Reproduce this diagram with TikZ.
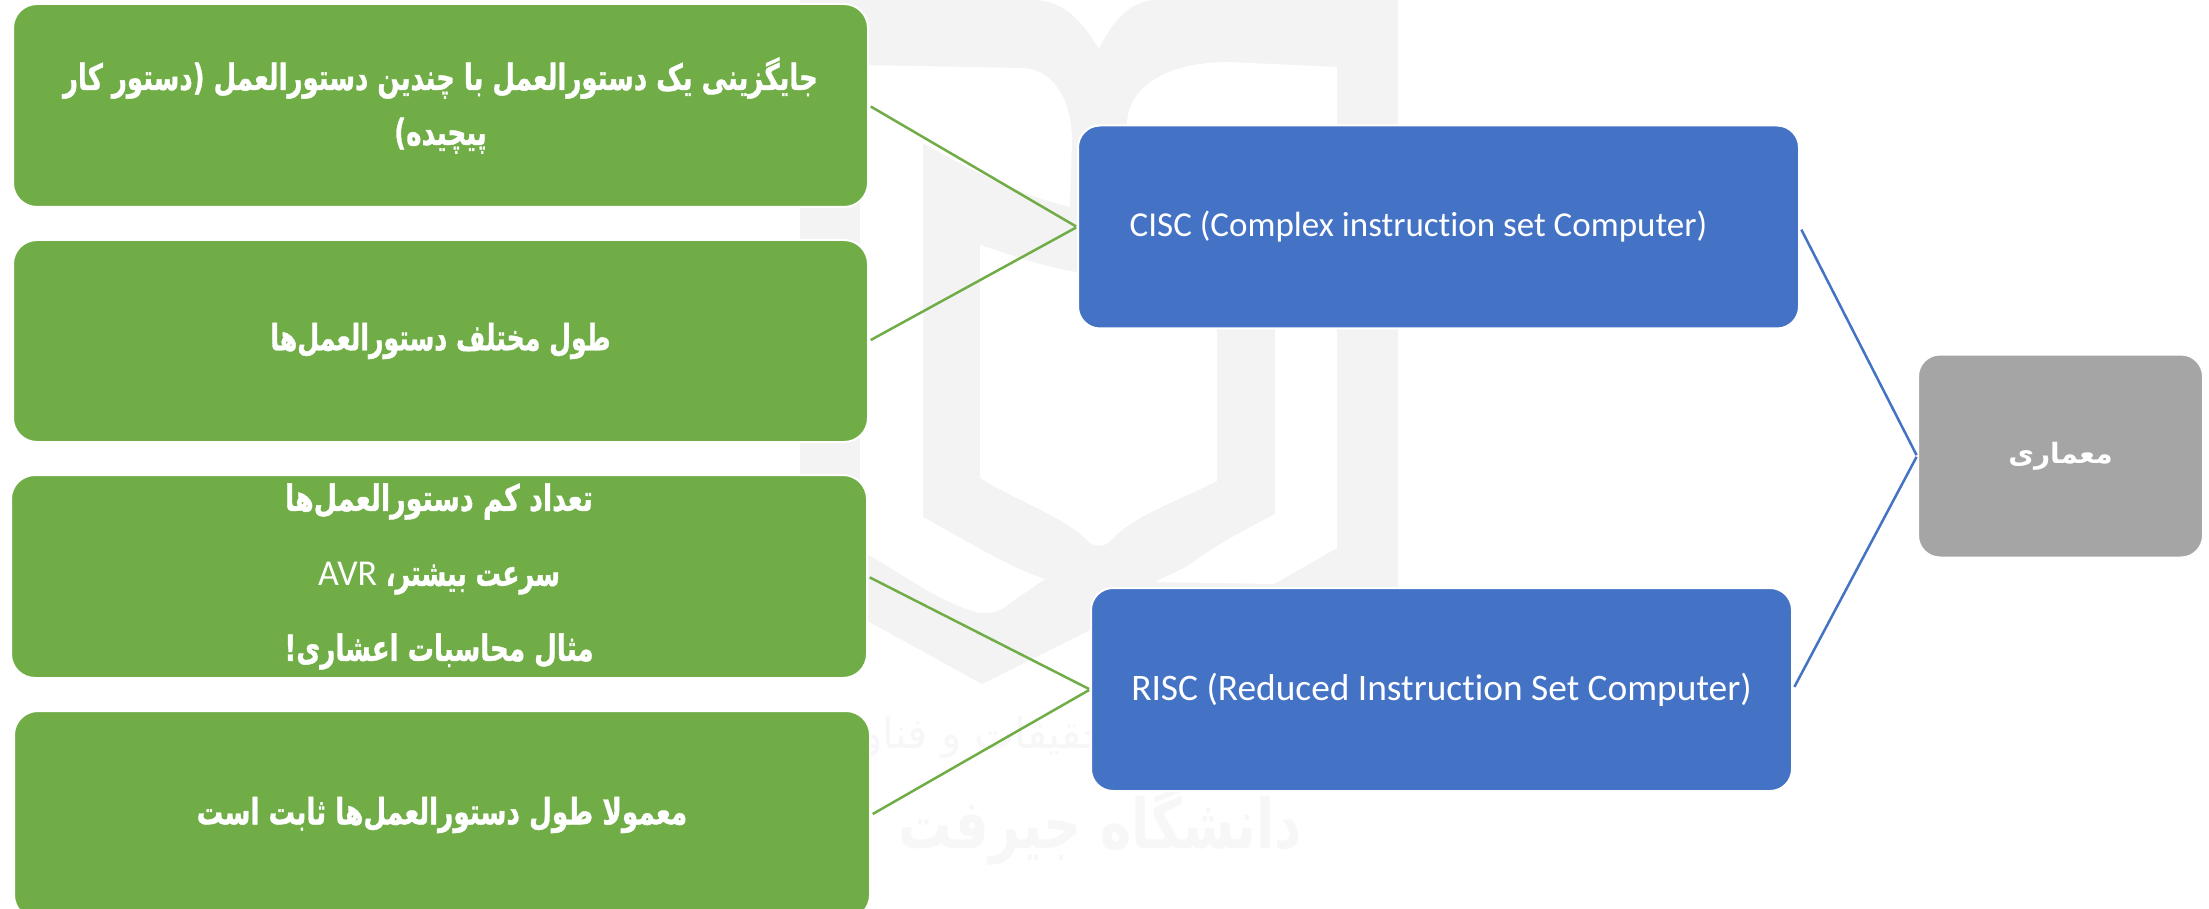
\documentclass[tikz,border=0pt]{standalone}
\usepackage{fontspec}
\setmainfont[Ligatures=NoCommon]{Carlito}
\newfontfamily\arabicfont[Script=Arabic]{DejaVu Sans}
\newfontfamily\arabicheavy[Script=Arabic,FakeBold=1.2]{DejaVu Sans Bold}
\TeXXeTstate=1
\definecolor{grn}{HTML}{70AD47}
\definecolor{blu}{HTML}{4472C4}
\definecolor{gry}{HTML}{A5A5A5}
\definecolor{wm}{HTML}{F3F3F3}
\definecolor{wmt}{HTML}{F7F7F7}
\tikzset{
  card/.style={rounded corners=22pt,draw=white,line width=2pt,inner sep=0pt,text=white,align=center},
  greenbox/.style={card,fill=grn,rounded corners=24pt,font=\arabicheavy\fontsize{24}{55}\selectfont},
  bluebox/.style={card,fill=blu},
  graybox/.style={card,fill=gry,font=\arabicfont\bfseries\fontsize{28}{34}\selectfont},
  glink/.style={draw=grn,line width=2.5pt},
  blink/.style={draw=blu,line width=2.5pt},
  wmark/.style={inner sep=0pt,text=wmt},
}
\begin{document}
\begin{tikzpicture}[x=1pt,y=-1pt]
\useasboundingbox[clip] (0,0) rectangle (2209,909);
\fill[white] (0,0) rectangle (2209,909);
% watermark logo
\fill[wm] (800,0) -- (1032,0) .. controls (1065,0) and (1082,22) .. (1099,49)
  .. controls (1112,22) and (1130,0) .. (1157,0) -- (1398,0) -- (1398,600) -- (1150,600)
  -- (982,684) -- (800,584) -- cycle;
\fill[white] (860,65) -- (1025,68) .. controls (1060,72) and (1072,110) .. (1072,140)
  -- (1070,207) .. controls (1020,195) and (970,170) .. (923,143)
  -- (923,517) .. controls (965,540) and (1010,568) .. (1045,579) -- (1010,603) .. controls (1000,612) and (990,614) .. (979,613)
  .. controls (940,603) and (900,572) .. (860,550) -- cycle;
\fill[white] (980,245) .. controls (1010,255) and (1045,267) .. (1076,272) -- (1150,272) -- (1217,240)
  -- (1217,481) .. controls (1180,500) and (1135,515) .. (1112,539) .. controls (1106,548) and (1092,548) .. (1086,539)
  .. controls (1060,515) and (1015,500) .. (980,478) -- cycle;
\fill[white] (1337,67) -- (1229,62) .. controls (1170,62) and (1127,85) .. (1127,125)
  -- (1127,200) -- (1275,240) -- (1275,514) .. controls (1245,530) and (1210,548) .. (1188,566) -- (1155,582) -- (1274,584)
  -- (1337,548) -- cycle;
\node[wmark,font=\arabicfont\bfseries\fontsize{53}{70}\selectfont] (wa) at (1100,826) {\scalebox{1}[1.3]{\beginR دانشگاه جیرفت\endR}};
\node[wmark,font=\arabicfont\fontsize{42}{50}\selectfont] (wb) at (965,738) {\beginR تحقیقات و فناوری\endR};
% cards
\node[greenbox,minimum width=855pt,minimum height=203pt] (g1) at (440.5,105.5)
  {\scalebox{1.083}[1.5]{\beginR جایگزینی یک دستورالعمل با چندین دستورالعمل (دستور کار\endR}\\\scalebox{1.09}[1.5]{\beginR پیچیده)\endR}};
\node[greenbox,minimum width=855pt,minimum height=202pt] (g2) at (440.5,341)
  {\scalebox{1.05}[1.5]{\beginR طول مختلف دستورالعمل‌ها\endR}};
\node[greenbox,minimum width=856pt,minimum height=203pt,font=\arabicheavy\fontsize{24}{75}\selectfont] (g3) at (439,576.5)
  {\scalebox{1.12}[1.5]{\beginR تعداد کم دستورالعمل‌ها\endR}\\\scalebox{1.05}[1.5]{\beginR سرعت بیشتر، \beginL\scalebox{1.14}[0.81]{\normalfont\fontsize{30}{75}\selectfont AVR}\endL\endR}\\\scalebox{1.09}[1.5]{\beginR مثال محاسبات اعشاری!\endR}};
\node[greenbox,minimum width=856pt,minimum height=208pt] (g4) at (442,815)
  {\scalebox{1.096}[1.5]{\beginR معمولا طول دستورالعمل‌ها ثابت است\endR}};
\node[bluebox,font=\fontsize{35}{41}\selectfont,minimum width=721pt,minimum height=203pt] (b1) at (1438.5,227) {\hspace*{-40pt}CISC (Complex instruction set Computer)};
\node[bluebox,font=\fontsize{37.4}{44}\selectfont,minimum width=701pt,minimum height=203pt] (b2) at (1441.5,689.5) {RISC (Reduced Instruction Set Computer)};
\node[graybox,minimum width=285pt,minimum height=203pt] (a) at (2060.5,456) {\beginR معماری\endR};
% connectors
\draw[glink,shorten <=2pt,shorten >=1pt] (g1.east) -- (b1.west);
\draw[glink,shorten <=2pt,shorten >=1pt] (g2.east) -- (b1.west);
\draw[glink,shorten <=2pt,shorten >=1pt] (g3.east) -- (b2.west);
\draw[glink,shorten <=2pt,shorten >=1pt] (g4.east) -- (b2.west);
\draw[blink,shorten <=3pt,shorten >=1pt] (b1.east) -- (a.west);
\draw[blink,shorten <=3pt,shorten >=1pt] (b2.east) -- (a.west);
\end{tikzpicture}
\end{document}
